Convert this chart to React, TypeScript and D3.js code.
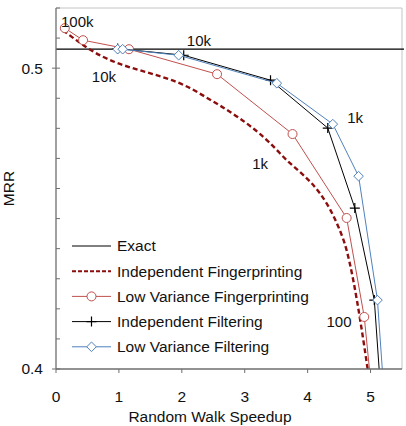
import React from 'react';
import * as d3 from 'd3';

// MRR of the exact computation
const exactMRR = 0.5063;

// speedup / MRR pairs per method
const indepFpX = [0.11, 0.51, 2.25, 3.56, 4.56, 5.01];
const indepFpY = [0.5126, 0.5066, 0.492, 0.4717, 0.4435, 0.392];

const lowVarFpX = [0.14, 0.43, 1.16, 2.56, 3.76, 4.62, 4.9, 5.03];
const lowVarFpY = [0.5133, 0.5093, 0.5063, 0.498, 0.4781, 0.4502, 0.4173, 0.39];

const indepFilterX = [0.98, 2.03, 3.41, 4.32, 4.75, 5.06, 5.17];
const indepFilterY = [0.5065, 0.5043, 0.496, 0.4801, 0.4535, 0.4229, 0.39];

const lowVarFilterX = [0.98, 1.06, 1.95, 3.51, 4.4, 4.81, 5.11, 5.22];
const lowVarFilterY = [0.5063, 0.5063, 0.5043, 0.495, 0.4814, 0.4641, 0.4229, 0.39];

const seriesNames = ['Exact', 'Independent Fingerprinting', 'Low Variance Fingerprinting', 'Independent Filtering', 'Low Variance Filtering'];

// sample-count labels
const noteText = ['100k', '10k', '10k', '1k', '1k', '100'];
const noteX = [0.08, 0.57, 2.08, 4.63, 3.12, 4.3];
const noteY = [0.5136, 0.4953, 0.5073, 0.4818, 0.4664, 0.4139];

const xTicks = [0, 1, 2, 3, 4, 5];
const yLabelTicks = [0.4, 0.5];

const W = 406;
const H = 426;
const m = { left: 56, right: 4, top: 8, bottom: 57 };
const font = '"Liberation Sans", Arial, sans-serif';

type Marker = 'none' | 'circle' | 'plus' | 'diamond';
interface Style { color: string; width: number; dash?: string; marker: Marker; smooth?: boolean }

const styles: Style[] = [
  { color: '#000', width: 1, marker: 'none' },
  { color: '#8b0d0d', width: 2.4, dash: '5,3', marker: 'none', smooth: true },
  { color: '#c0504d', width: 1, marker: 'circle' },
  { color: '#000', width: 1, marker: 'plus' },
  { color: '#4f81bd', width: 1, marker: 'diamond' },
];

function MarkerShape({ kind, x, y, color }: { kind: Marker; x: number; y: number; color: string }) {
  if (kind === 'circle') return <circle cx={x} cy={y} r={4.5} fill="#fff" stroke={color} strokeWidth={1} />;
  if (kind === 'diamond') return <path d={`M${x},${y - 4.8}L${x + 4.8},${y}L${x},${y + 4.8}L${x - 4.8},${y}Z`} fill="#fff" stroke={color} strokeWidth={1} />;
  if (kind === 'plus') return <path d={`M${x - 5},${y}H${x + 5}M${x},${y - 5}V${y + 5}`} stroke={color} strokeWidth={1.2} />;
  return null;
}

export default function App() {
  const x = d3.scaleLinear().domain([0, 5.5]).range([m.left, W - m.right]);
  const y = d3.scaleLinear().domain([0.4, 0.52]).range([H - m.bottom, m.top]);

  const series = [
    { xs: indepFpX, ys: indepFpY, s: styles[1] },
    { xs: lowVarFpX, ys: lowVarFpY, s: styles[2] },
    { xs: indepFilterX, ys: indepFilterY, s: styles[3] },
    { xs: lowVarFilterX, ys: lowVarFilterY, s: styles[4] },
  ];

  const line = (smooth?: boolean) =>
    d3.line<[number, number]>()
      .x(d => x(d[0]))
      .y(d => y(d[1]))
      .curve(smooth ? d3.curveMonotoneX : d3.curveLinear);

  const yMinor = d3.range(0.41, 0.5201, 0.01).filter(v => !yLabelTicks.some(t => Math.abs(t - v) < 1e-6));
  const [x0, x1] = x.range();
  const [yb, yt] = y.range();

  return (
    <svg width={W} height={H} style={{ position: 'absolute', left: 0, top: 0 }} fontFamily={font}>
      <defs>
        <clipPath id="plot">
          <rect x={x0} y={yt} width={x1 - x0} height={yb - yt} />
        </clipPath>
      </defs>
      <rect width={W} height={H} fill="#fff" />

      {/* frame */}
      <path d={`M${x0},${yt}H${x1}V${yb}`} fill="none" stroke="#c4c4c4" strokeWidth={1} />

      {/* exact reference */}
      <line x1={x0} x2={x1 + 2} y1={y(exactMRR)} y2={y(exactMRR)} stroke={styles[0].color} strokeWidth={1.2} />

      <g clipPath="url(#plot)">
        {series.map((sr, i) => {
          const pts = sr.xs.map((v, j) => [v, sr.ys[j]] as [number, number]);
          return (
            <g key={i}>
              <path d={line(sr.s.smooth)(pts) ?? ''} fill="none" stroke={sr.s.color} strokeWidth={sr.s.width} strokeDasharray={sr.s.dash} />
              {pts.map((p, j) => <MarkerShape key={j} kind={sr.s.marker} x={x(p[0])} y={y(p[1])} color={sr.s.color} />)}
            </g>
          );
        })}
      </g>

      {/* axes */}
      <line x1={x0} x2={x0} y1={yt} y2={yb} stroke="#6e6e6e" strokeWidth={1.3} />
      <line x1={x0} x2={x1} y1={yb} y2={yb} stroke="#6e6e6e" strokeWidth={1.3} />
      {yMinor.map(v => <line key={v} x1={x0} x2={x0 + 4} y1={y(v)} y2={y(v)} stroke="#6e6e6e" />)}
      {yLabelTicks.map(v => (
        <g key={v}>
          <line x1={x0 - 4} x2={x0 + 4} y1={y(v)} y2={y(v)} stroke="#6e6e6e" />
          <text x={x0 - 13} y={y(v)} dy="0.35em" textAnchor="end" fontSize={15.5} fill="#111">{v.toFixed(1)}</text>
        </g>
      ))}
      {xTicks.map(v => (
        <g key={v}>
          <line x1={x(v)} x2={x(v)} y1={yb} y2={yb + 4} stroke="#6e6e6e" />
          <text x={x(v)} y={yb + 33} textAnchor="middle" fontSize={15.5} fill="#111">{v}</text>
        </g>
      ))}

      <text x={210} y={H - 4} textAnchor="middle" fontSize={15.5} fill="#111">Random Walk Speedup</text>
      <text transform={`translate(13.5,${(yt + yb) / 2}) rotate(-90)`} textAnchor="middle" fontSize={15.5} fill="#111">MRR</text>

      {/* sample-count labels */}
      {noteText.map((t, i) => (
        <text key={i} x={x(noteX[i])} y={y(noteY[i])} fontSize={15} fill="#111">{t}</text>
      ))}

      {/* legend */}
      {seriesNames.map((name, i) => {
        const ly = 246 + i * 25.2;
        const s = styles[i];
        return (
          <g key={name}>
            <line x1={72} x2={111} y1={ly} y2={ly} stroke={s.color} strokeWidth={i === 1 ? 2 : 1} strokeDasharray={s.dash ? '4,2' : undefined} />
            <MarkerShape kind={s.marker} x={91.5} y={ly} color={s.color} />
            <text x={117} y={ly} dy="0.35em" fontSize={15.5} fill="#111">{name}</text>
          </g>
        );
      })}
    </svg>
  );
}
